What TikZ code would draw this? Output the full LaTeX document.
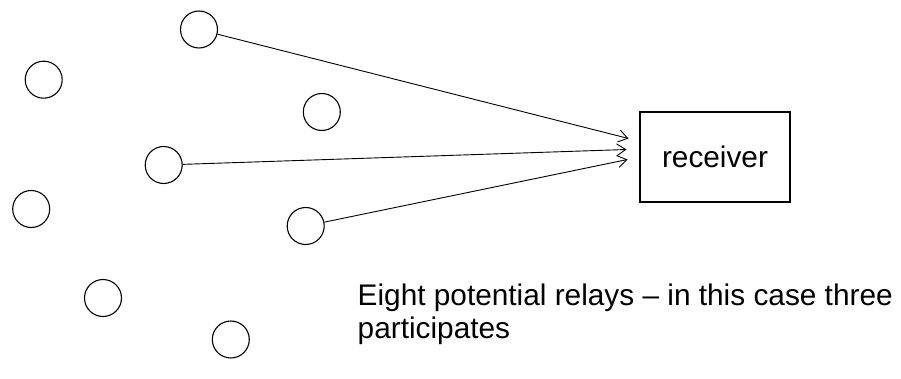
\documentclass[tikz,border=0pt]{standalone}
\usepackage{fontspec}
\setmainfont{Liberation Sans}
\usetikzlibrary{arrows.meta}
\begin{document}
\begin{tikzpicture}[x=1pt,y=-1pt,
  relay/.style={circle,draw=black,line width=1.1pt,minimum size=37pt,inner sep=0pt},
  rxbox/.style={rectangle,draw=black,line width=1.1pt,minimum width=150pt,minimum height=90pt,inner sep=0pt,
    font=\fontsize{29.8}{33}\selectfont},
  link/.style={draw=black,line width=0.9pt,-{Straight Barb[length=9pt,width=12pt,line width=0.9pt]}}
]
\useasboundingbox (0,0) rectangle (901,379);

% relays
\node[relay] (c1) at (199,29.5) {};
\node[relay] (c2) at (43.7,79.7) {};
\node[relay] (c3) at (321.8,112) {};
\node[relay] (c4) at (163.7,165) {};
\node[relay] (c5) at (31.2,209) {};
\node[relay] (c6) at (305.7,226) {};
\node[relay] (c7) at (103,298) {};
\node[relay] (c8) at (230.8,339.5) {};

% receiver
\node[rxbox] (rx) at (715,157) {receiver};

% arrow tips just short of the receiver
\coordinate (t1) at (628.5,138.5);
\coordinate (t2) at (626.5,149.5);
\coordinate (t3) at (627.5,159.5);

\draw[link] (c1) -- (t1);
\draw[link] (c4) -- (t2);
\draw[link] (c6) -- (t3);

% caption
\node[anchor=base west,align=left,inner sep=0pt,font=\fontsize{29.8}{33}\selectfont] (cap) at (357.5,338)
  {Eight potential relays – in this case three\\participates};
\end{tikzpicture}
\end{document}
